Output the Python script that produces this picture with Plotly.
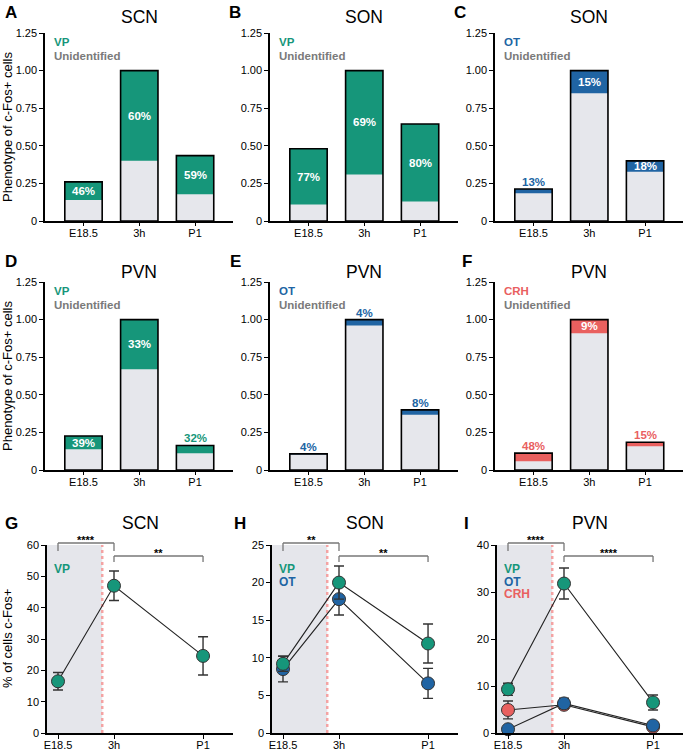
import plotly.graph_objects as go

W, H = 685, 750

categories = ["E18.5", "3h", "P1"]

# ---- stacked bar panels: total c-Fos+ (relative to 3h) and % of identified phenotype
scn_vp_total = [0.26, 1.00, 0.435]
scn_vp_pct = [46, 60, 59]
son_vp_total = [0.48, 1.00, 0.645]
son_vp_pct = [77, 69, 80]
son_ot_total = [0.213, 1.00, 0.40]
son_ot_pct = [13, 15, 18]
pvn_vp_total = [0.226, 1.00, 0.163]
pvn_vp_pct = [39, 33, 32]
pvn_ot_total = [0.107, 1.00, 0.40]
pvn_ot_pct = [4, 4, 8]
pvn_crh_total = [0.112, 1.00, 0.185]
pvn_crh_pct = [48, 9, 15]

# ---- line panels: mean and error (% of cells c-Fos+)
scn_vp_mean = [16.5, 47.0, 24.6]
scn_vp_err = [2.8, 4.7, 6.1]
son_vp_mean = [9.2, 20.0, 11.9]
son_vp_err = [1.0, 2.2, 2.6]
son_ot_mean = [8.5, 17.8, 6.6]
son_ot_err = [1.7, 2.1, 2.0]
pvn_vp_mean = [9.3, 31.8, 6.5]
pvn_vp_err = [1.3, 3.3, 1.6]
pvn_ot_mean = [0.8, 6.3, 1.6]
pvn_ot_err = [0.3, 1.1, 0.5]
pvn_crh_mean = [4.9, 6.0, 1.3]
pvn_crh_err = [1.9, 0.8, 0.5]

sig_scn = ["****", "**"]
sig_son = ["**", "**"]
sig_pvn = ["****", "****"]

# ---- styles / layout constants
FONT = "Liberation Sans, Arial, sans-serif"
C_VP = "#16967A"
C_OT = "#2064A3"
C_CRH = "#E9605F"
C_UNID = "#E6E7EC"
C_UNID_TXT = "#7A7A7A"
C_BRACKET = "#777777"
C_SHADE = "#E5E6EB"
C_BIRTH = "#F4A3A3"
time_pos = [0, 1, 2.59]   # horizontal placement of time points in line panels
birth_x = 0.79

cols_bar = [(45, 233), (270, 458), (495, 683)]
cols_line = [(47, 233), (272, 458), (497, 683)]
rows = [(33, 221), (282, 470), (545, 733)]


def xdom(c):
    return [c[0] / W, c[1] / W]


def ydom(r):
    return [1 - r[1] / H, 1 - r[0] / H]


fig = go.Figure()
annotations = []
shapes = []
layout = {}

bar_panels = [
    ("SCN", "VP", C_VP, scn_vp_total, scn_vp_pct, "A"),
    ("SON", "VP", C_VP, son_vp_total, son_vp_pct, "B"),
    ("SON", "OT", C_OT, son_ot_total, son_ot_pct, "C"),
    ("PVN", "VP", C_VP, pvn_vp_total, pvn_vp_pct, "D"),
    ("PVN", "OT", C_OT, pvn_ot_total, pvn_ot_pct, "E"),
    ("PVN", "CRH", C_CRH, pvn_crh_total, pvn_crh_pct, "F"),
]
letter_pos = {
    "A": (3, 13), "B": (227, 12), "C": (452, 12),
    "D": (3, 261), "E": (228, 262), "F": (460, 262),
    "G": (3, 523), "H": (232, 523), "I": (462, 523),
}
title_y = [17, 272, 523]

axis_common = dict(showgrid=False, zeroline=False, showline=True, linecolor="black", automargin=False,
                   linewidth=1.5, ticks="outside", ticklen=4, tickwidth=1.3,
                   tickcolor="black", tickfont=dict(family=FONT, size=11, color="black"))

for i, (region, phen, col, total, pct, letter) in enumerate(bar_panels):
    n = i + 1
    r, c = divmod(i, 3)
    xa = "x" if n == 1 else f"x{n}"
    ya = "y" if n == 1 else f"y{n}"
    unid = [t * (1 - p / 100) for t, p in zip(total, pct)]
    fig.add_trace(go.Bar(x=categories, y=total, width=0.67, marker=dict(color=col, line=dict(width=0)),
                         xaxis=xa, yaxis=ya, showlegend=False, hoverinfo="skip"))
    fig.add_trace(go.Bar(x=categories, y=unid, width=0.67, marker=dict(color=C_UNID, line=dict(width=0)),
                         xaxis=xa, yaxis=ya, showlegend=False, hoverinfo="skip"))
    fig.add_trace(go.Bar(x=categories, y=total, width=0.67,
                         marker=dict(color="rgba(0,0,0,0)", line=dict(width=1.6, color="black")),
                         xaxis=xa, yaxis=ya, showlegend=False, hoverinfo="skip"))
    layout[f"xaxis{n if n > 1 else ''}"] = dict(axis_common, domain=xdom(cols_bar[c]), anchor=ya,
                                                 type="category", range=[-0.69, 2.68], ticklen=3,
                                                 ticklabelstandoff=-2)
    layout[f"yaxis{n if n > 1 else ''}"] = dict(axis_common, domain=ydom(rows[r]), anchor=xa,
                                                 range=[0, 1.25],
                                                 tickvals=[0, 0.25, 0.5, 0.75, 1.0, 1.25],
                                                 ticktext=["0", "0.25", "0.50", "0.75", "1.00", "1.25"])
    # percent labels
    for cat, t, u, p in zip(categories, total, unid, pct):
        seg = t - u
        if seg >= 0.06:
            annotations.append(dict(x=cat, y=u + seg / 2, xref=xa, yref=ya, text=f"<b>{p}%</b>",
                                    yanchor="middle", showarrow=False,
                                    font=dict(family=FONT, size=11.5, color="white")))
        else:
            annotations.append(dict(x=cat, y=t, xref=xa, yref=ya, text=f"<b>{p}%</b>", yanchor="bottom",
                                    yshift=-1, showarrow=False, font=dict(family=FONT, size=11.5, color=col)))
    # legend texts
    annotations.append(dict(x=0.045, y=1 - 8.5 / 188, xref=f"{xa} domain", yref=f"{ya} domain",
                            text=f"<b>{phen}</b>", xanchor="left", yanchor="middle", showarrow=False,
                            borderpad=0, font=dict(family=FONT, size=11.5, color=col)))
    annotations.append(dict(x=0.045, y=1 - 22.5 / 188, xref=f"{xa} domain", yref=f"{ya} domain",
                            text="<b>Unidentified</b>", xanchor="left", yanchor="middle", showarrow=False,
                            borderpad=0, font=dict(family=FONT, size=11.5, color=C_UNID_TXT)))
    # titles
    cx = (cols_bar[c][0] + cols_bar[c][1]) / 2 / W
    annotations.append(dict(x=cx, y=1 - title_y[r] / H, xref="paper", yref="paper", text=region,
                            xanchor="center", yanchor="middle", showarrow=False,
                            font=dict(family=FONT, size=17.5, color="black")))

line_panels = [
    ("SCN", [("VP", C_VP, scn_vp_mean, scn_vp_err)], sig_scn, 60, 10),
    ("SON", [("OT", C_OT, son_ot_mean, son_ot_err), ("VP", C_VP, son_vp_mean, son_vp_err)], sig_son, 25, 5),
    ("PVN", [("CRH", C_CRH, pvn_crh_mean, pvn_crh_err), ("OT", C_OT, pvn_ot_mean, pvn_ot_err),
             ("VP", C_VP, pvn_vp_mean, pvn_vp_err)], sig_pvn, 40, 10),
]
legend_order = {"VP": 0, "OT": 1, "CRH": 2}

for j, (region, series, sig, ymax, dt) in enumerate(line_panels):
    n = 7 + j
    xa, ya = f"x{n}", f"y{n}"
    x_left = -11 / 56
    x_right = (cols_line[j][1] - cols_line[j][0] - 11) / 56
    layout[f"xaxis{n}"] = dict(axis_common, domain=xdom(cols_line[j]), anchor=ya,
                               range=[x_left, x_right], tickvals=time_pos, ticktext=categories,
                               ticklabelstandoff=-3)
    layout[f"yaxis{n}"] = dict(axis_common, domain=ydom(rows[2]), anchor=xa, range=[0, ymax],
                               dtick=dt, tick0=0)
    shapes.append(dict(type="rect", xref=xa, yref=f"{ya} domain", x0=x_left, x1=birth_x, y0=0, y1=1,
                       fillcolor=C_SHADE, line=dict(width=0), layer="below"))
    shapes.append(dict(type="line", xref=xa, yref=f"{ya} domain", x0=birth_x, x1=birth_x, y0=0, y1=1,
                       line=dict(color=C_BIRTH, width=2.5, dash="dot"), layer="below"))
    for name, col, mean, err in series:
        fig.add_trace(go.Scatter(x=time_pos, y=mean, mode="lines+markers", xaxis=xa, yaxis=ya,
                                 line=dict(color="#222222", width=1.1),
                                 marker=dict(size=13, color=col, line=dict(color="#333333", width=1)),
                                 error_y=dict(type="data", array=err, visible=True, color="#333333",
                                              thickness=1.4, width=5),
                                 cliponaxis=False, showlegend=False, hoverinfo="skip"))
        k = legend_order[name]
        annotations.append(dict(x=0.03, y=1 - (24 + 12.5 * k) / 188, xref=f"{xa} domain",
                                yref=f"{ya} domain", text=f"<b>{name}</b>", xanchor="left",
                                yanchor="middle", showarrow=False, borderpad=0,
                                font=dict(family=FONT, size=12, color=col)))
    # significance brackets
    brackets = [(time_pos[0], time_pos[1], 1 + 2 / 188, 1 - 6 / 188, sig[0]),
                (time_pos[1], time_pos[2], 1 - 11 / 188, 1 - 17 / 188, sig[1])]
    for x0, x1, yb, yt, s in brackets:
        shapes.append(dict(type="line", xref=xa, yref=f"{ya} domain", x0=x0, x1=x1, y0=yb, y1=yb,
                           line=dict(color=C_BRACKET, width=1.3)))
        for xx in (x0, x1):
            shapes.append(dict(type="line", xref=xa, yref=f"{ya} domain", x0=xx, x1=xx, y0=yt, y1=yb,
                               line=dict(color=C_BRACKET, width=1.3)))
        annotations.append(dict(x=(x0 + x1) / 2, y=yb, xref=xa, yref=f"{ya} domain", text=f"<b>{s}</b>",
                                xanchor="center", yanchor="bottom", yshift=-5, showarrow=False,
                                font=dict(family=FONT, size=11, color="black")))
    cx = (cols_line[j][0] + cols_line[j][1]) / 2 / W
    annotations.append(dict(x=cx, y=1 - title_y[2] / H, xref="paper", yref="paper", text=region,
                            xanchor="center", yanchor="middle", showarrow=False,
                            font=dict(family=FONT, size=17.5, color="black")))

# y-axis titles
for r, txt in [(0, "Phenotype of c-Fos+ cells"), (1, "Phenotype of c-Fos+ cells"), (2, "% of cells c-Fos+")]:
    yc = 1 - (rows[r][0] + rows[r][1]) / 2 / H
    annotations.append(dict(x=7 / W, y=yc, xref="paper", yref="paper", text=txt, textangle=-90,
                            xanchor="center", yanchor="middle", showarrow=False,
                            font=dict(family=FONT, size=13, color="black")))

# panel letters
for L, (lx, ly) in letter_pos.items():
    annotations.append(dict(x=lx / W, y=1 - ly / H, xref="paper", yref="paper", text=f"<b>{L}</b>",
                            xanchor="left", yanchor="middle", showarrow=False,
                            font=dict(family=FONT, size=17, color="black")))

fig.update_layout(**layout)
fig.update_layout(width=W, height=H, margin=dict(l=0, r=0, t=0, b=0, autoexpand=False), barmode="overlay",
                  plot_bgcolor="white", paper_bgcolor="white", annotations=annotations, shapes=shapes,
                  font=dict(family=FONT))
fig.write_html("out.html", config={"displayModeBar": False},
               post_script="document.body.style.margin='0';document.body.style.padding='0';")
